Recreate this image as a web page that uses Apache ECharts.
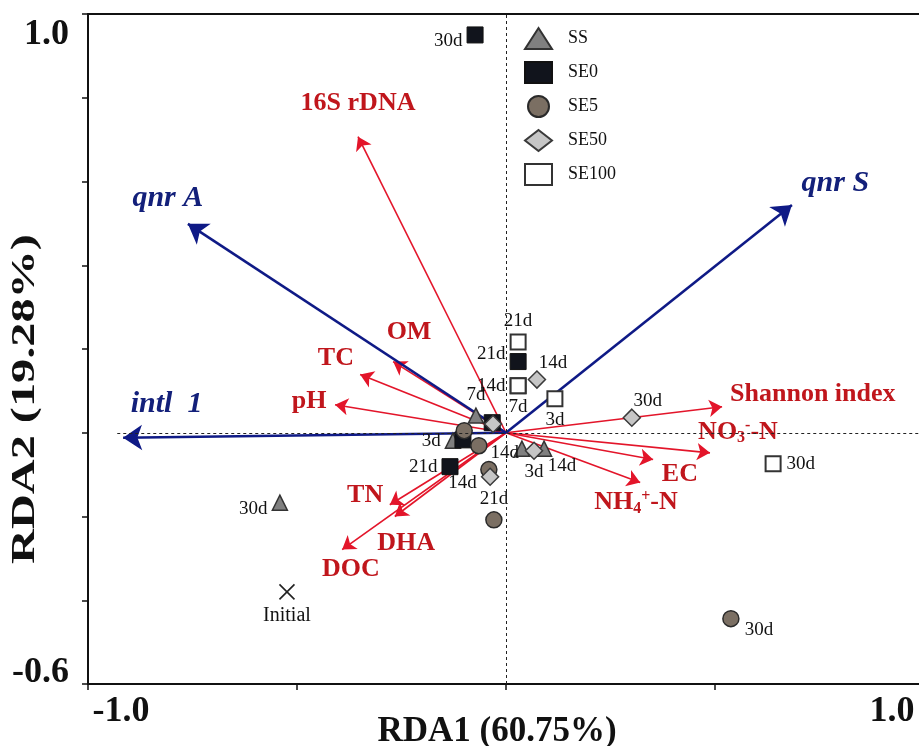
<!DOCTYPE html>
<html>
<head>
<meta charset="utf-8">
<script src="https://cdn.jsdelivr.net/npm/echarts@6/dist/echarts.min.js"></script>
<style>
  html, body { margin: 0; padding: 0; background: #fff; }
  #RdaChart { width: 919px; height: 746px; }
</style>
</head>
<body>
<div id="RdaChart"></div>
<script>
// sample scores (RDA1, RDA2)
const ssX = [-0.541, -0.072, -0.127, 0.038, 0.091]
const ssY = [-0.167, 0.041, -0.019, -0.038, -0.038]
const ssDay = ['30d', '7d', '3d', '', '14d']
const ssSide = ['lb', 't', 'l', '', 'br']

const se0X = [-0.074, 0.029, -0.033, -0.103, -0.134]
const se0Y = [0.950, 0.170, 0.024, -0.017, -0.081]
const se0Day = ['30d', '21d', '', '', '21d']
const se0Side = ['lb', 'lt', '', '', 'l']

const se5X = [0.538, -0.029, -0.041, -0.100, -0.065]
const se5Y = [-0.444, -0.208, -0.088, 0.005, -0.031]
const se5Day = ['30d', '21d', '14d', '', '']
const se5Side = ['rb', 't', 'tr', '', '']

const se50X = [0.301, 0.074, -0.031, 0.067, -0.038]
const se50Y = [0.036, 0.127, 0.021, -0.043, -0.105]
const se50Day = ['30d', '14d', '', '3d', '14d']
const se50Side = ['tr', 'tr', '', 'b', 'lb']

const se100X = [0.029, 0.029, 0.029, 0.117, 0.639]
const se100Y = [0.217, 0.112, 0.112, 0.081, -0.074]
const se100Day = ['21d', '14d', '7d', '3d', '30d']
const se100Side = ['t', 'l', 'b', 'b', 'r']

const initialX = [-0.524]
const initialY = [-0.380]

// environmental factors (red arrows)
const envNames = ['16S rDNA', 'OM', 'TC', 'pH', 'TN', 'DHA', 'DOC', 'Shannon index', 'NO{sub|3}{sup|-}-N', 'EC', 'NH{sub|4}{sup|+}-N']
const envX = [-0.354, -0.270, -0.349, -0.409, -0.278, -0.266, -0.392, 0.517, 0.488, 0.352, 0.321]
const envY = [0.707, 0.170, 0.139, 0.067, -0.172, -0.200, -0.279, 0.062, -0.048, -0.064, -0.119]
const envLabelX = [-0.354, -0.232, -0.407, -0.471, -0.337, -0.239, -0.371, 0.734, 0.555, 0.416, 0.311]
const envLabelY = [0.786, 0.239, 0.179, 0.076, -0.150, -0.263, -0.327, 0.091, 0.002, -0.100, -0.167]

// genes (blue arrows)
const geneNames = ['qnr A', 'qnr S', 'intl  1']
const geneX = [-0.761, 0.684, -0.916]
const geneY = [0.499, 0.544, -0.012]
const geneLabelX = [-0.809, 0.788, -0.812]
const geneLabelY = [0.561, 0.597, 0.067]

const xTickLabels = [-1.0, 1.0]
const yTickLabels = [-0.6, 1.0]

const font = 'Liberation Serif'
const red = '#e3152a'
const redText = '#c0161c'
const blue = '#0f1a86'
const blueText = '#13207a'

const sideMap = {
	l: { position: 'left', distance: 4 },
	lb: { position: 'left', distance: 4, offset: [0, 6] },
	lt: { position: 'left', distance: 4, offset: [0, -8] },
	r: { position: 'right', distance: 5 },
	t: { position: 'top', distance: 3 },
	b: { position: 'bottom', distance: 3 },
	tr: { position: 'top', distance: 2, offset: [16, 4] },
	br: { position: 'bottom', distance: 2, offset: [18, -2] },
	rb: { position: 'right', distance: 5, offset: [0, 11] }
}

function group(name, xs, ys, days, sides, symbol, size, style) {
	return {
		name: name,
		type: 'scatter',
		symbol: symbol,
		symbolSize: size,
		itemStyle: Object.assign({ opacity: 1 }, style),
		silent: true,
		z: 3,
		label: { formatter: '{b}', color: '#111', fontSize: 19, fontFamily: font },
		data: xs.map((x, i) => ({
			value: [x, ys[i]],
			name: days[i],
			label: Object.assign({ show: !!days[i] }, sideMap[sides[i]] || {})
		}))
	}
}

function labelSeries(names, xs, ys, style) {
	return {
		type: 'scatter',
		symbolSize: 1,
		silent: true,
		itemStyle: { color: 'rgba(0,0,0,0)', opacity: 1 },
		z: 4,
		label: Object.assign({ show: true, position: 'inside', formatter: '{b}', fontFamily: font, fontWeight: 'bold' }, style),
		data: xs.map((x, i) => ({ value: [x, ys[i]], name: names[i] }))
	}
}

function arrowSeries(xs, ys, color, width, head) {
	return {
		type: 'lines',
		coordinateSystem: 'cartesian2d',
		silent: true,
		symbol: ['none', 'arrow'],
		symbolSize: head,
		lineStyle: { color: color, width: width, opacity: 1, curveness: 0 },
		z: 2,
		data: xs.map((x, i) => ({ coords: [[0, 0], [x, ys[i]]] }))
	}
}

const subStyle = { fontSize: 16, fontWeight: 'bold', fontFamily: font, color: redText, padding: [12, 0, 0, 0] }
const supStyle = { fontSize: 16, fontWeight: 'bold', fontFamily: font, color: redText, padding: [0, 0, 12, 0] }

const option = {
	animation: false,
	backgroundColor: '#fff',
	grid: { left: 88, top: 14, width: 836, height: 670, outerBoundsMode: 'none', containLabel: false },
	legend: {
		orient: 'vertical',
		left: 519,
		top: 22,
		itemWidth: 27,
		itemHeight: 21,
		itemGap: 11,
		data: ['SS', 'SE0', 'SE5', 'SE50', 'SE100'],
		textStyle: { fontFamily: font, fontSize: 18, color: '#111', padding: [0, 0, 0, 11] }
	},
	xAxis: [
		{
			type: 'value', min: -1, max: 1, interval: 0.5,
			axisLine: { onZero: false, lineStyle: { color: '#111', width: 2 } },
			axisTick: { length: 6, lineStyle: { color: '#111', width: 1.5 } },
			axisLabel: { show: false },
			splitLine: { show: false }
		},
		{
			type: 'value', min: -1, max: 1, position: 'top',
			axisLine: { onZero: false, lineStyle: { color: '#111', width: 2 } },
			axisTick: { show: false },
			axisLabel: { show: false },
			splitLine: { show: false }
		}
	],
	yAxis: {
		type: 'value', min: -0.6, max: 1.0, interval: 0.2,
		axisLine: { onZero: false, lineStyle: { color: '#111', width: 2 } },
		axisTick: { length: 6, lineStyle: { color: '#111', width: 1.5 } },
		axisLabel: { show: false },
		splitLine: { show: false }
	},
	series: [
		arrowSeries(envX, envY, red, 1.6, 13),
		arrowSeries(geneX, geneY, blue, 2.6, 19),
		group('SS', ssX, ssY, ssDay, ssSide, 'triangle', 15, { color: '#808080', borderColor: '#333', borderWidth: 1.5 }),
		group('SE0', se0X, se0Y, se0Day, se0Side, 'rect', 16, { color: '#11141c', borderColor: '#111', borderWidth: 1 }),
		group('SE5', se5X, se5Y, se5Day, se5Side, 'circle', 16, { color: '#7b6f63', borderColor: '#2a2a2a', borderWidth: 1.5 }),
		group('SE50', se50X, se50Y, se50Day, se50Side, 'diamond', 17, { color: '#c6c6c6', borderColor: '#3a3a3a', borderWidth: 1.5 }),
		group('SE100', se100X, se100Y, se100Day, se100Side, 'rect', 15, { color: '#fff', borderColor: '#333', borderWidth: 2 }),
		{
			name: 'Initial',
			type: 'scatter',
			symbol: 'path://M0,0L20,20M20,0L0,20',
			symbolSize: 15,
			silent: true,
			itemStyle: { color: 'rgba(0,0,0,0)', borderColor: '#222', borderWidth: 1.6, opacity: 1 },
			label: { show: true, position: 'bottom', distance: 6, formatter: 'Initial', color: '#111', fontSize: 20, fontFamily: font },
			data: initialX.map((x, i) => [x, initialY[i]])
		},
		Object.assign(labelSeries(envNames, envLabelX, envLabelY, {
			fontSize: 26, color: redText, rich: { sub: subStyle, sup: supStyle }
		}), {
			markLine: {
				silent: true,
				symbol: 'none',
				label: { show: false },
				lineStyle: { color: '#222', width: 1, type: [3, 3] },
				data: [
					[{ coord: [0, -0.6] }, { coord: [0, 1.0] }],
					[{ coord: [-0.93, 0] }, { coord: [1, 0] }]
				]
			}
		}),
		labelSeries(geneNames, geneLabelX, geneLabelY, { fontSize: 30, fontStyle: 'italic', color: blueText })
	]
}

const chart = echarts.init(document.getElementById('RdaChart'))
chart.setOption(option)

// tick labels and axis titles placed from the axis scale
const tickFont = 'bold 36px "Liberation Serif"'
const graphics = []
xTickLabels.forEach((v, i) => {
	const p = chart.convertToPixel({ gridIndex: 0 }, [v, -0.6])
	graphics.push({
		type: 'text', x: p[0] + (i === 0 ? 33 : -32), y: p[1] + 28,
		style: { text: v.toFixed(1), font: tickFont, fill: '#111', textAlign: 'center', textVerticalAlign: 'middle' }
	})
})
yTickLabels.forEach((v, i) => {
	const p = chart.convertToPixel({ gridIndex: 0 }, [-1, v])
	graphics.push({
		type: 'text', x: p[0] - 19, y: p[1] + (i === 0 ? -11 : 21),
		style: { text: v.toFixed(1), font: tickFont, fill: '#111', textAlign: 'right', textVerticalAlign: 'middle' }
	})
})
graphics.push({
	type: 'text', x: 497, y: 732,
	style: { text: 'RDA1 (60.75%)', font: 'bold 35px "Liberation Serif"', fill: '#111', textAlign: 'center', textVerticalAlign: 'middle' }
})
graphics.push({
	type: 'text', x: 25, y: 399, rotation: Math.PI / 2, scaleX: 1.42,
	style: { text: 'RDA2 (19.28%)', font: 'bold 34px "Liberation Serif"', fill: '#111', textAlign: 'center', textVerticalAlign: 'middle' }
})
chart.setOption({ graphic: graphics })

window.onresize = () => {
	chart.resize()
}
</script>
</body>
</html>
